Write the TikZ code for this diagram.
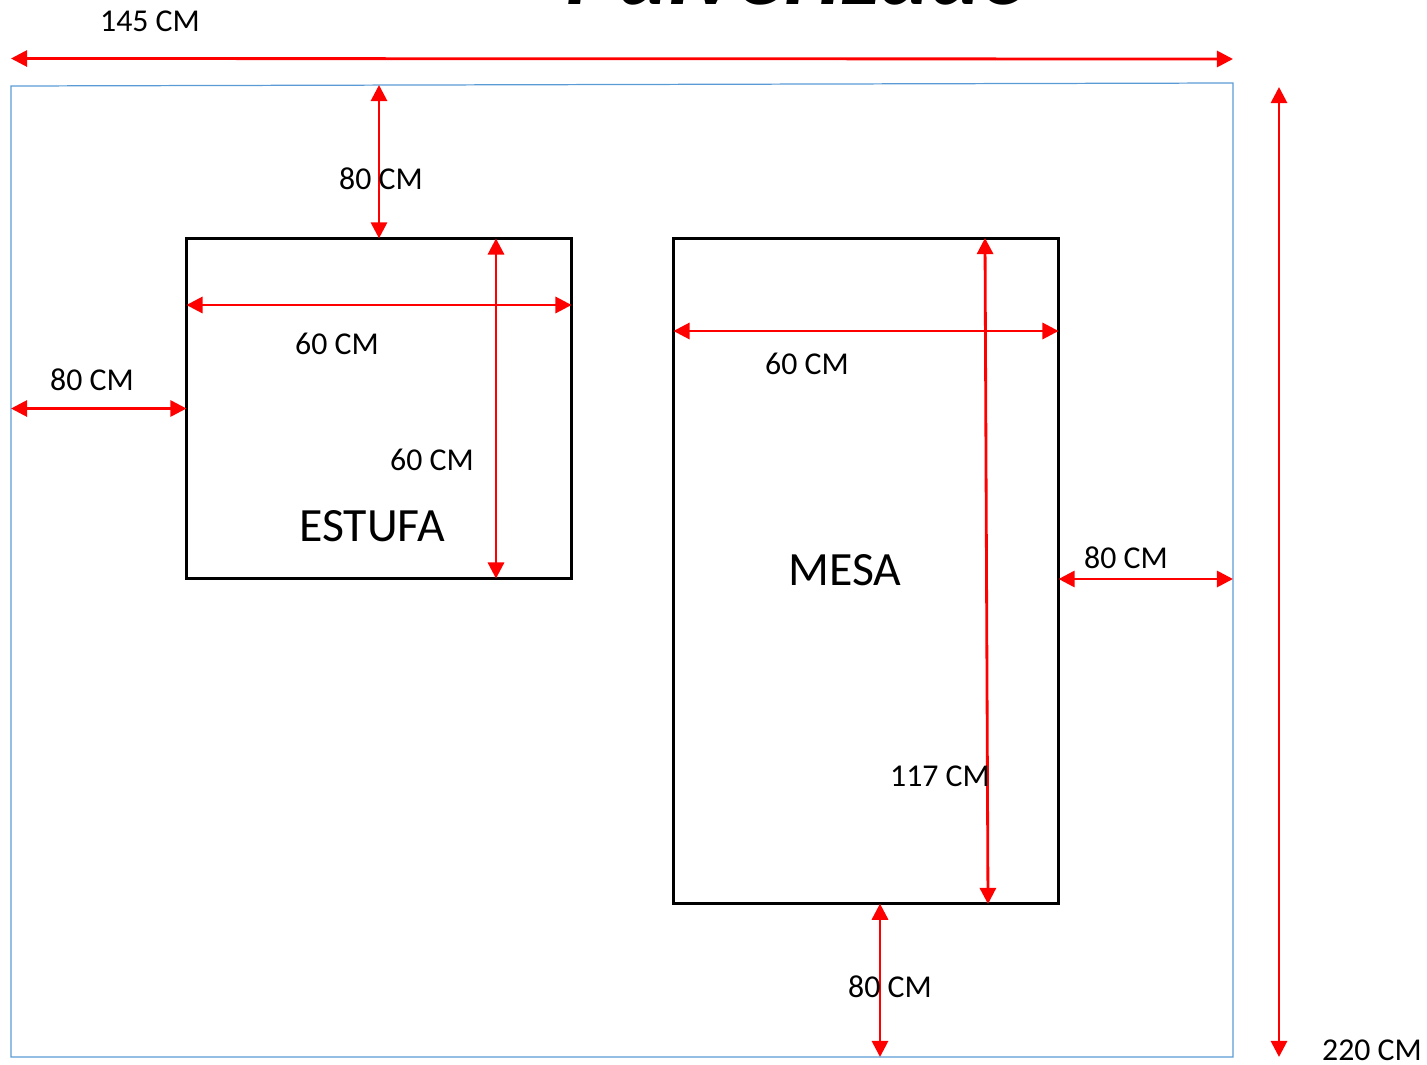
\documentclass[tikz,border=0pt]{standalone}
\usepackage{fontspec}
\setmainfont{Carlito}
\usetikzlibrary{arrows.meta}
\definecolor{roomblue}{HTML}{5B9BD5}
\tikzstyle{dim}=[red,line width=1.6pt,{Triangle[length=9.2pt,width=9.2pt]}-{Triangle[length=9.2pt,width=9.2pt]}]
\tikzstyle{box}=[draw,black,line width=1.7pt,inner sep=0pt,outer sep=0pt]
\tikzstyle{lab}=[inner sep=0pt,font=\fontsize{18.1}{20}\selectfont]
\tikzstyle{itemlab}=[inner sep=0pt,font=\fontsize{27.2}{30}\selectfont]
\begin{document}
\begin{tikzpicture}[x=0.02cm,y=-0.02cm]
\useasboundingbox (0,0) rectangle (1427,1065);
\begin{scope}
\clip (0,0) rectangle (1427,1065);
\node[anchor=base,inner sep=0pt,font=\fontsize{55}{55}\selectfont\bfseries\itshape] (title) at (799,4.5) {Pulverizado};
\end{scope}
% room outline
\coordinate (nw) at (11,86);
\coordinate (ne) at (1233,83);
\coordinate (se) at (1233,1057);
\coordinate (sw) at (11,1057);
\draw[roomblue,line width=0.7pt] (nw) -- (ne) -- (se) -- (sw) -- cycle;
% stove and table
\node[box,minimum width=219.2pt,minimum height=193.6pt] (estufa) at (379,408.5) {};
\node[box,minimum width=219.2pt,minimum height=378.6pt] (mesa) at (866,571) {};
% outer dimensions
\coordinate (w1) at (11,58.5);
\coordinate (w2) at (1233,59);
\coordinate (h1) at (1279,87);
\coordinate (h2) at (1279,1057);
\draw[dim] (w1) -- (w2);
\draw[dim] (h1) -- (h2);
% clearances and sizes
\draw[dim] (379,85) -- (estufa.north);
\draw[dim] (sw |- estufa.west) -- (estufa.west);
\draw[dim] (estufa.west |- 0,305) -- (estufa.east |- 0,305);
\draw[dim] (estufa.north -| 496,0) -- (estufa.south -| 496,0);
\draw[dim] (mesa.west |- 0,331) -- (mesa.east |- 0,331);
\draw[dim] (985,238) -- (988,904);
\draw[dim] (mesa.east |- 0,579) -- (se |- 0,579);
\draw[dim] (mesa.south -| 880,0) -- (880,1057);
% labels
\foreach \n/\x/\y/\t in {a/150/21/145 CM,b/381/179/80 CM,c/337/344/60 CM,d/92/380/80 CM,e/432/460/60 CM,f/807/364/60 CM,g/940/776/117 CM,h/1126/558/80 CM,i/890/987/80 CM,j/1372/1050/220 CM} {
 \node[lab] (lab\n) at (\x,\y) {\t};
}
\node[itemlab] (estufalab) at (372,526) {ESTUFA};
\node[itemlab] (mesalab) at (845,570) {MESA};
\end{tikzpicture}
\end{document}
